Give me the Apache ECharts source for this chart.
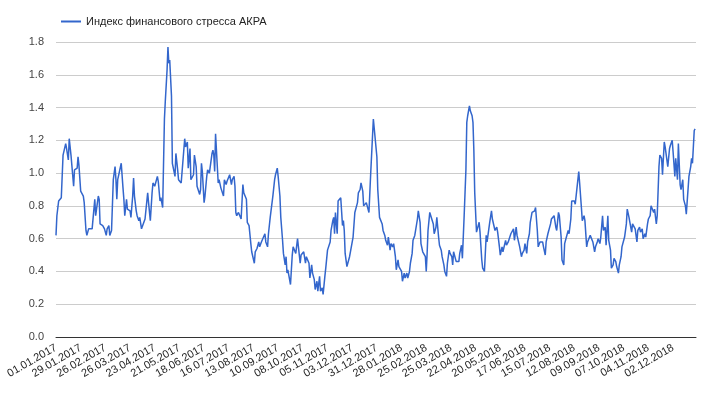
<!DOCTYPE html>
<html>
<head>
<meta charset="utf-8">
<script src="https://cdn.jsdelivr.net/npm/echarts@6/dist/echarts.min.js"></script>
<style>
html,body{margin:0;padding:0;background:#fff;}
#chart{width:716px;height:396px;}
</style>
</head>
<body>
<div id="chart"></div>
<script>
var seriesName = 'Индекс финансового стресса АКРА';
var startDate = [2017, 0, 1];
var yTicks = [0, 0.2, 0.4, 0.6, 0.8, 1.0, 1.2, 1.4, 1.6, 1.8];

var dayOffsets = [
0,1,3,4,6,8,11,12,14,15,17,20,21,24,25,26,27,28,30,31,32,34,35,37,41,42,44,45,48,49,50,53,55,57,58,60,61,63,65,67,68,69,70,72,74,76,77,78,80,81,84,85,87,88,89,91,92,94,95,97,98,101,102,104,105,107,109,110,112,113,115,116,118,119,121,123,124,126,127,128,129,131,132,133,135,136,138,139,142,
144,146,147,149,150,152,153,156,157,159,160,163,164,165,166,168,169,171,172,174,175,177,178,179,180,181,183,184,185,187,188,190,191,193,194,196,197,199,200,202,203,204,205,207,209,210,212,213,216,217,219,221,222,225,226,228,230,231,233,235,237,238,240,241,243,244,246,248,249,251,252,254,255,257,258,260,261,262,263,265,266,268,269,271,272,274,275,277,278,280,281,283,284,287,
288,290,291,293,294,296,297,299,300,302,303,305,306,308,311,312,314,315,316,317,319,320,322,323,325,326,327,328,330,331,333,334,336,337,339,340,342,343,345,346,348,349,351,352,354,355,357,359,360,362,364,365,367,368,370,371,373,374,376,377,379,380,382,383,385,386,388,389,392,393,395,396,398,399,401,402,404,405,407,408,410,411,413,414,416,417,419,420,421,422,424,425,428,429,430,431,432,434,435,
437,438,440,441,443,444,446,447,449,450,451,453,454,455,457,458,460,461,463,465,466,467,469,470,472,473,474,475,477,478,480,481,483,484,486,487,488,489,491,492,494,495,497,498,500,501,503,504,506,507,510,511,513,514,516,517,519,520,522,523,525,526,528,529,531,532,534,535,537,538,540,541,543,544,546,547,549,550,552,553,555,556,558,559,561,562,564,565,567,568,570,571,573,574,576,577,
579,581,582,584,585,588,589,591,593,594,596,597,599,600,602,603,605,606,608,609,611,612,614,615,617,618,620,621,623,624,626,627,629,630,632,633,635,636,638,639,641,642,644,645,647,648,650,651,653,654,656,657,659,660,662,663,665,666,668,669,671,672,674,675,678,679,681,682,684,685,687,688,690,691,693,694,696,697,699,700,702,703,705,706,708,709,711,712,714,715,717,718,720,721,722,724,725
];

var stressValues = [
0.62,0.74,0.83,0.82,0.85,1.11,1.18,1.15,1.08,1.21,1.11,0.92,1.02,1.03,1.10,1.05,1.05,0.89,0.88,0.86,0.82,0.65,0.62,0.66,0.66,0.67,0.84,0.74,0.86,0.84,0.69,0.68,0.66,0.62,0.66,0.68,0.62,0.65,0.96,1.04,0.96,0.84,0.96,0.97,1.06,0.91,0.84,0.74,0.84,0.78,0.77,0.73,0.86,0.97,0.86,0.77,0.74,0.71,0.73,0.66,0.67,0.72,0.73,0.88,0.82,0.71,0.88,0.94,0.92,0.94,0.98,0.95,0.83,0.85,0.79,1.33,1.44,1.63,1.77,1.67,1.69,1.47,1.06,1.05,0.98,1.12,1.02,0.96,0.94,
0.94,1.21,1.16,1.19,1.03,1.15,0.96,0.99,1.11,1.04,0.92,0.87,0.90,1.06,1.01,0.82,0.86,0.98,1.02,1.00,1.01,1.12,1.14,1.11,1.01,1.24,1.24,0.94,0.96,0.91,0.90,0.86,0.96,0.93,0.95,0.94,0.99,0.93,0.96,0.98,0.92,0.76,0.74,0.76,0.76,0.72,0.93,0.88,0.84,0.70,0.68,0.57,0.52,0.45,0.52,0.54,0.58,0.55,0.58,0.59,0.63,0.58,0.55,0.63,0.73,0.73,0.86,0.96,0.99,1.03,0.98,0.86,0.73,0.59,0.51,0.44,0.49,0.39,0.41,0.35,0.32,0.50,0.55,0.55,0.51,0.60,0.60,0.45,0.50,0.51,0.52,0.45,0.49,0.45,
0.36,0.44,0.39,0.35,0.29,0.34,0.28,0.37,0.28,0.30,0.26,0.37,0.42,0.53,0.58,0.65,0.71,0.73,0.63,0.76,0.63,0.83,0.84,0.85,0.68,0.71,0.65,0.51,0.43,0.43,0.49,0.52,0.51,0.61,0.76,0.76,0.82,0.88,0.90,0.94,0.89,0.80,0.79,0.82,0.83,0.76,1.00,1.22,1.33,1.33,1.10,0.90,0.73,0.73,0.69,0.65,0.62,0.59,0.56,0.61,0.53,0.57,0.55,0.57,0.49,0.41,0.47,0.43,0.40,0.34,0.39,0.36,0.39,0.36,0.40,0.45,0.51,0.59,0.62,0.61,0.72,0.77,0.70,0.57,0.52,0.53,0.49,0.40,0.51,0.65,0.76,0.75,0.69,0.63,0.64,0.67,0.73,0.61,0.56,
0.53,0.49,0.44,0.40,0.37,0.45,0.53,0.51,0.49,0.44,0.52,0.53,0.46,0.45,0.46,0.51,0.56,0.48,0.74,1.02,1.31,1.35,1.41,1.38,1.35,1.31,1.14,0.88,0.64,0.65,0.70,0.64,0.47,0.42,0.40,0.51,0.62,0.58,0.59,0.70,0.77,0.72,0.71,0.65,0.67,0.64,0.55,0.50,0.55,0.52,0.59,0.56,0.58,0.57,0.63,0.64,0.66,0.59,0.67,0.62,0.63,0.55,0.49,0.51,0.53,0.57,0.51,0.58,0.63,0.70,0.76,0.75,0.77,0.79,0.65,0.55,0.58,0.57,0.58,0.55,0.50,0.58,0.63,0.63,0.69,0.72,0.73,0.74,0.67,0.65,0.76,0.74,0.61,0.47,0.44,0.57,
0.61,0.65,0.63,0.72,0.83,0.83,0.81,0.91,1.01,0.94,0.79,0.71,0.74,0.71,0.55,0.58,0.57,0.62,0.61,0.58,0.52,0.55,0.58,0.60,0.57,0.61,0.74,0.65,0.67,0.56,0.74,0.59,0.53,0.42,0.44,0.48,0.46,0.43,0.39,0.44,0.49,0.55,0.55,0.61,0.69,0.78,0.73,0.70,0.64,0.69,0.69,0.66,0.58,0.65,0.67,0.64,0.66,0.60,0.63,0.61,0.69,0.72,0.74,0.80,0.76,0.78,0.69,0.74,1.04,1.11,1.09,0.99,1.19,1.16,1.17,1.04,1.15,1.17,1.20,1.13,0.98,1.09,0.96,1.18,0.93,0.90,0.96,0.84,0.80,0.75,0.74,0.98,1.04,1.09,1.06,1.26,1.27
];

function pad(n){ return (n < 10 ? '0' : '') + n; }
function dayLabel(v){
  var d = new Date(startDate[0], startDate[1], startDate[2] + Math.round(v));
  return pad(d.getDate()) + '.' + pad(d.getMonth() + 1) + '.' + d.getFullYear();
}

var points = dayOffsets.map(function(d, i){ return [d, stressValues[i]]; });

var chart = echarts.init(document.getElementById('chart'), null, {renderer: 'canvas'});
chart.setOption({
  animation: false,
  backgroundColor: '#ffffff',
  textStyle: {fontFamily: 'Arial, "Liberation Sans", sans-serif'},
  legend: {
    left: 56, top: 11,
    icon: 'rect', itemWidth: 20, itemHeight: 2, itemGap: 4,
    textStyle: {fontSize: 11, color: '#222', fontFamily: 'Arial, "Liberation Sans", sans-serif'},
    data: [seriesName]
  },
  grid: {left: 56, right: 20, top: 42, bottom: 59, containLabel: false},
  xAxis: {
    type: 'value',
    min: 0, max: 726, interval: 28,
    axisLine: {show: true, lineStyle: {color: '#333', width: 1}},
    axisTick: {show: false},
    splitLine: {show: false},
    axisLabel: {
      rotate: 30, fontSize: 11, color: '#222', margin: 10,
      showMaxLabel: false,
      formatter: function(v){ return v <= 700 ? dayLabel(v) : ''; }
    }
  },
  yAxis: {
    type: 'value',
    min: yTicks[0], max: yTicks[yTicks.length - 1], interval: 0.2,
    axisLine: {show: false},
    axisTick: {show: false},
    splitLine: {lineStyle: {color: '#cccccc', width: 1}},
    axisLabel: {fontSize: 11, color: '#444', margin: 12,
      formatter: function(v){ return v.toFixed(1); }}
  },
  series: [{
    name: seriesName,
    type: 'line',
    data: points,
    showSymbol: false,
    symbol: 'none',
    lineStyle: {color: '#3366cc', width: 1.5},
    itemStyle: {color: '#3366cc'}
  }]
});
</script>
</body>
</html>
